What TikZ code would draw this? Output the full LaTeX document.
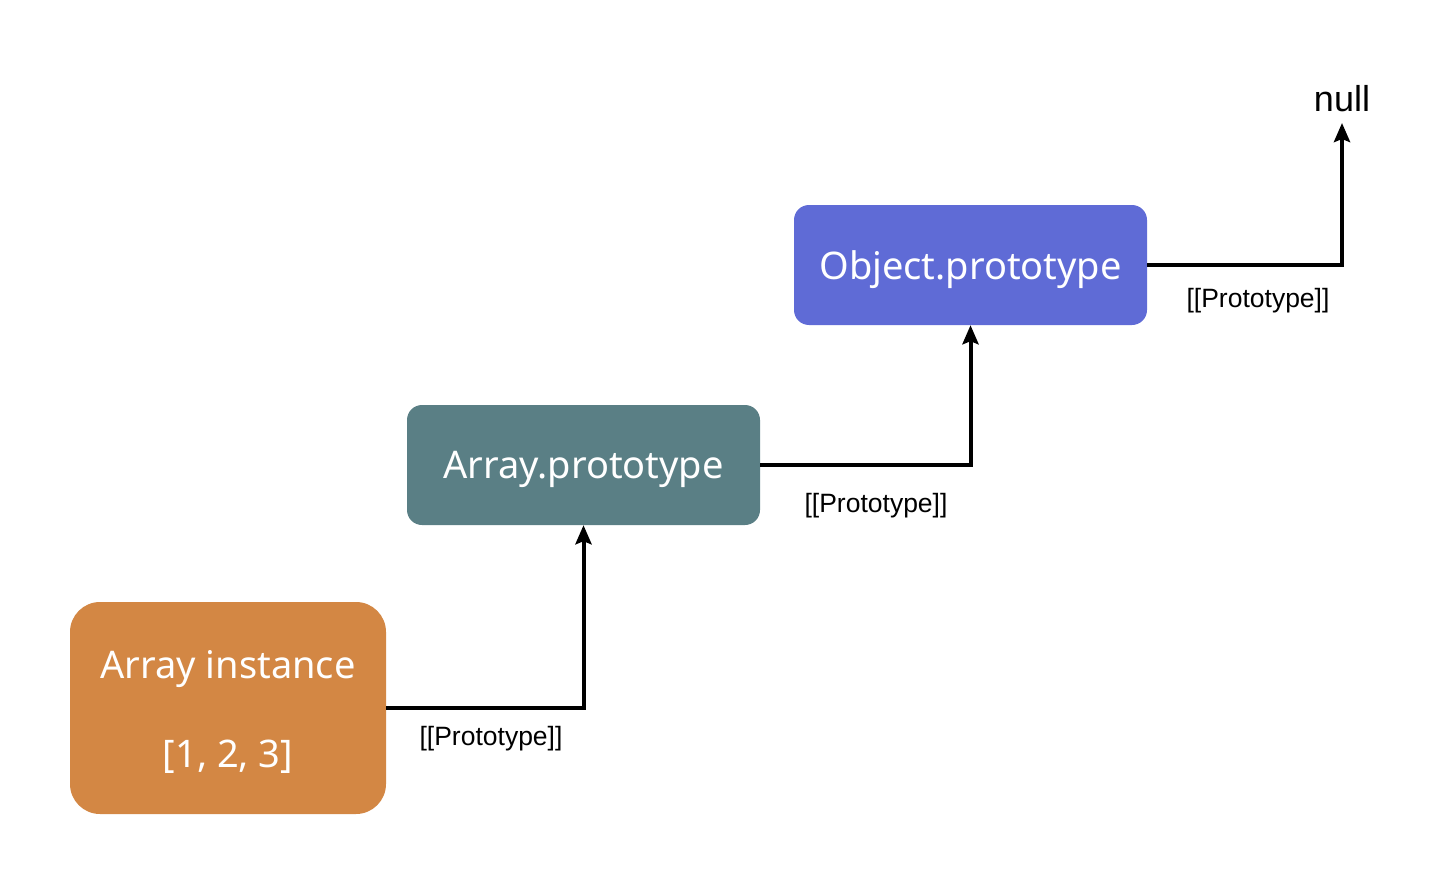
\documentclass[tikz,border=0pt]{standalone}
\usepackage{fontspec}
\setmainfont{Noto Sans}
\newfontfamily\labelfont{Liberation Sans}
\usetikzlibrary{arrows.meta}
\definecolor{instorange}{HTML}{D38744}
\definecolor{arrteal}{HTML}{5A7F85}
\definecolor{objblue}{HTML}{5F6BD6}
\tikzset{
  protobox/.style={rounded corners=15pt, inner sep=0pt, text=white,
    minimum width=353pt, minimum height=120pt, text depth=0pt,
    font=\fontsize{38}{45}\selectfont},
  conn/.style={line width=4pt, -{Stealth[length=19pt,width=16pt,inset=3pt]}},
  protolabel/.style={font=\labelfont\fontsize{26.5}{30}\selectfont, inner sep=0pt}
}
\begin{document}
\begin{tikzpicture}[x=1pt,y=-1pt]
\useasboundingbox (0,0) rectangle (1442,888);
\node[fill=instorange, rounded corners=30pt, inner sep=0pt, text=white,
  minimum width=316pt, minimum height=212pt, align=center,
  font=\fontsize{38}{89}\selectfont]
  (inst) at (228,708) {\rule{0pt}{35pt}Array instance\\{}[1, 2, 3]};
\node[protobox, fill=arrteal] (ap) at (583.5,465) {Array.prototype};
\node[protobox, fill=objblue] (op) at (970.5,265) {Object.prototype};
\node[anchor=south, inner sep=11pt, font=\labelfont\fontsize{36}{40}\selectfont] (null) at (1342,123) {null};
\draw[conn] (inst.east) -| (ap.south);
\draw[conn] (ap.east) -| (op.south);
\draw[conn] (op.east) -| (null.south);
\node[protolabel] (l1) at (491,739) {[[Prototype]]};
\node[protolabel] (l2) at (876,506) {[[Prototype]]};
\node[protolabel] (l3) at (1258,301) {[[Prototype]]};
\end{tikzpicture}
\end{document}
